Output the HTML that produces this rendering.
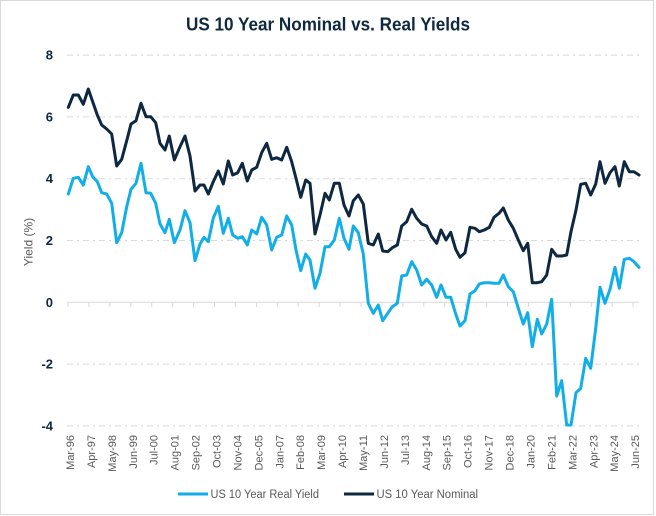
<!DOCTYPE html>
<html><head><meta charset="utf-8"><style>
html,body{margin:0;padding:0;background:#fff;}
svg{display:block;}
text{font-family:"Liberation Sans",sans-serif;}
</style></head><body>
<svg width="656" height="516" viewBox="0 0 656 516" xmlns="http://www.w3.org/2000/svg">
<rect x="0" y="0" width="656" height="516" fill="#fff"/>
<rect x="0.5" y="0.5" width="653" height="514" fill="none" stroke="#d9d9d9" stroke-width="1"/>
<text x="328" y="30.7" text-anchor="middle" font-size="18.5" font-weight="bold" fill="#0e2841" textLength="284" lengthAdjust="spacingAndGlyphs">US 10 Year Nominal vs. Real Yields</text>
<g stroke="#d9d9d9" stroke-width="1" stroke-dasharray="6 4 2 4" fill="none">
<line x1="67" y1="55.1" x2="639" y2="55.1"/>
<line x1="67" y1="116.9" x2="639" y2="116.9"/>
<line x1="67" y1="178.7" x2="639" y2="178.7"/>
<line x1="67" y1="240.5" x2="639" y2="240.5"/>
<line x1="67" y1="364.1" x2="639" y2="364.1"/>
<line x1="67" y1="425.9" x2="639" y2="425.9"/>
</g>
<line x1="67" y1="302.3" x2="639" y2="302.3" stroke="#d9d9d9" stroke-width="1"/>
<g stroke="#d9d9d9" stroke-width="1">
<line x1="68" y1="302.3" x2="68" y2="307"/><line x1="88.9" y1="302.3" x2="88.9" y2="307"/><line x1="109.9" y1="302.3" x2="109.9" y2="307"/><line x1="130.8" y1="302.3" x2="130.8" y2="307"/><line x1="151.7" y1="302.3" x2="151.7" y2="307"/><line x1="172.7" y1="302.3" x2="172.7" y2="307"/><line x1="193.6" y1="302.3" x2="193.6" y2="307"/><line x1="214.5" y1="302.3" x2="214.5" y2="307"/><line x1="235.4" y1="302.3" x2="235.4" y2="307"/><line x1="256.4" y1="302.3" x2="256.4" y2="307"/><line x1="277.3" y1="302.3" x2="277.3" y2="307"/><line x1="298.2" y1="302.3" x2="298.2" y2="307"/><line x1="319.2" y1="302.3" x2="319.2" y2="307"/><line x1="340.1" y1="302.3" x2="340.1" y2="307"/><line x1="361" y1="302.3" x2="361" y2="307"/><line x1="382" y1="302.3" x2="382" y2="307"/><line x1="402.9" y1="302.3" x2="402.9" y2="307"/><line x1="423.8" y1="302.3" x2="423.8" y2="307"/><line x1="444.7" y1="302.3" x2="444.7" y2="307"/><line x1="465.7" y1="302.3" x2="465.7" y2="307"/><line x1="486.6" y1="302.3" x2="486.6" y2="307"/><line x1="507.5" y1="302.3" x2="507.5" y2="307"/><line x1="528.5" y1="302.3" x2="528.5" y2="307"/><line x1="549.4" y1="302.3" x2="549.4" y2="307"/><line x1="570.3" y1="302.3" x2="570.3" y2="307"/><line x1="591.3" y1="302.3" x2="591.3" y2="307"/><line x1="612.2" y1="302.3" x2="612.2" y2="307"/><line x1="633.1" y1="302.3" x2="633.1" y2="307"/>
</g>
<g font-size="13" font-weight="bold" fill="#0e2841" text-anchor="end">
<text x="53" y="59.6">8</text>
<text x="53" y="121.4">6</text>
<text x="53" y="183.2">4</text>
<text x="53" y="245">2</text>
<text x="53" y="306.8">0</text>
<text x="53" y="368.6">-2</text>
<text x="53" y="430.4">-4</text>
</g>
<text transform="translate(32.5,242) rotate(-90)" text-anchor="middle" font-size="12" fill="#595959">Yield (%)</text>
<polyline fill="none" stroke="#12aee8" stroke-width="3" stroke-linejoin="round" stroke-linecap="round" points="68.3,194 73.3,178.3 78.3,177.3 83.3,185 88.3,166.7 92.7,176.7 97.3,181.7 101.7,192.7 106.7,194 111.7,203.3 116.7,242.7 121.7,232.7 126.7,206.7 131,189.3 136,183.3 141,163.3 146,192.7 150.7,193.3 155.7,203.3 160,224 165,232.7 169.3,219.3 174.3,242.7 180,230 185,210.7 190,222.7 195,260.7 200,244 204,237.3 208.3,241.7 213.3,218 218.3,206.3 223.3,233.3 228.3,218.3 232.7,235 237.7,238.3 242.3,236.7 247.3,245 251.7,230 256.7,234 261.7,217.3 266.7,225 271.7,250 276.7,237.3 281.7,235 286.7,216 291.7,225 296,250 300.7,270.7 305.7,254 310,260 315,288.3 320,273.3 325,246.7 329.3,246.7 334.3,240 339.3,218.3 344,238.3 349,249.3 353.3,226 358.3,232.7 363.3,254 368.3,303.3 373.3,313.3 378.3,305 382.7,320.7 387.7,313.3 392.3,306.7 397.3,303.3 401.7,276 406.7,275 411.7,261.7 416.7,270 421.7,285 426.7,279.3 431.7,285 436.7,297.3 441,285 446,297.3 450.7,297.3 455.7,314 460,326 465,320.7 470,294 475,290.7 479.3,284 484.3,282.7 489.3,282.7 494,283.3 499,283.3 503.3,275 508.3,286.7 513.3,291.7 518.3,308.3 523.3,324 527.7,312.7 532.3,346.7 537.3,319.3 541.7,334 546.7,324 551.7,299.3 556.7,396 561.7,380.7 566.7,425 571,425 576,392.7 580.7,388.3 585.7,358.3 590.7,368.3 595.7,328.3 600,287.3 605,303.3 610,289.3 615,267.3 619.3,288.3 624.3,259.3 629.3,258.3 634,261.7 639,267.3"/>
<polyline fill="none" stroke="#0e2841" stroke-width="3" stroke-linejoin="round" stroke-linecap="round" points="68.3,107.3 73.3,95 78.3,95 83.3,104.3 88.3,89 92.7,101.7 97.3,115 101.7,125 106.7,129 111.7,134 116.7,166 121.7,159.3 126.7,140.7 131,124 136,120.7 141,103.3 146,116.7 150.7,116.7 155.7,122.7 160,143.3 165,150 169.3,136 174.3,160 180,146.7 185,136 190,156 195,191 200,185 204,185 208.3,194 213.3,181.7 218.3,171 223.3,184 228.3,161 232.7,175 237.7,172.7 242.3,163.3 247.3,181 251.7,170 256.7,167.3 261.7,152.7 266.7,143.3 271.7,159.3 276.7,157.7 281.7,160 286.7,147.3 291.7,161.7 296,178.3 300.7,197.3 305.7,180 310,183.3 315,234 320,215 325,193.3 329.3,200 334.3,183.3 339.3,183.3 344,205 349,216 353.3,200.7 358.3,195 363.3,204 368.3,243.3 373.3,245 378.3,234 382.7,251 387.7,251.7 392.3,247.7 397.3,245 401.7,226 406.7,221.7 411.7,209.3 416.7,218.3 421.7,224 426.7,226 431.7,236.7 436.7,243.3 441,230 446,240 450.7,232.3 455.7,249.3 460,257.3 465,252.7 470,227.3 475,228.3 479.3,231.7 484.3,230 489.3,227.3 494,217.3 499,213.3 503.3,208 508.3,220 513.3,228.3 518.3,240 523.3,250.7 527.7,243.3 532.3,282.7 537.3,282.7 541.7,281.7 546.7,275 551.7,249.3 556.7,256 561.7,256 566.7,255 571,231.7 576,210 580.7,184.3 585.7,183.3 590.7,195 595.7,184 600,161.7 605,183.3 610,172.7 615,166.7 619.3,186 624.3,161.7 629.3,171.7 634,171.7 639,175"/>
<g font-size="11" fill="#595959" text-anchor="end">
<text transform="translate(74,435) rotate(-90)">Mar-96</text>
<text transform="translate(94.9,435) rotate(-90)">Apr-97</text>
<text transform="translate(115.9,435) rotate(-90)">May-98</text>
<text transform="translate(136.8,435) rotate(-90)">Jun-99</text>
<text transform="translate(157.7,435) rotate(-90)">Jul-00</text>
<text transform="translate(178.7,435) rotate(-90)">Aug-01</text>
<text transform="translate(199.6,435) rotate(-90)">Sep-02</text>
<text transform="translate(220.5,435) rotate(-90)">Oct-03</text>
<text transform="translate(241.4,435) rotate(-90)">Nov-04</text>
<text transform="translate(262.4,435) rotate(-90)">Dec-05</text>
<text transform="translate(283.3,435) rotate(-90)">Jan-07</text>
<text transform="translate(304.2,435) rotate(-90)">Feb-08</text>
<text transform="translate(325.2,435) rotate(-90)">Mar-09</text>
<text transform="translate(346.1,435) rotate(-90)">Apr-10</text>
<text transform="translate(367,435) rotate(-90)">May-11</text>
<text transform="translate(388,435) rotate(-90)">Jun-12</text>
<text transform="translate(408.9,435) rotate(-90)">Jul-13</text>
<text transform="translate(429.8,435) rotate(-90)">Aug-14</text>
<text transform="translate(450.7,435) rotate(-90)">Sep-15</text>
<text transform="translate(471.7,435) rotate(-90)">Oct-16</text>
<text transform="translate(492.6,435) rotate(-90)">Nov-17</text>
<text transform="translate(513.5,435) rotate(-90)">Dec-18</text>
<text transform="translate(534.5,435) rotate(-90)">Jan-20</text>
<text transform="translate(555.4,435) rotate(-90)">Feb-21</text>
<text transform="translate(576.3,435) rotate(-90)">Mar-22</text>
<text transform="translate(597.3,435) rotate(-90)">Apr-23</text>
<text transform="translate(618.2,435) rotate(-90)">May-24</text>
<text transform="translate(639.1,435) rotate(-90)">Jun-25</text>
</g>
<line x1="178" y1="494" x2="208" y2="494" stroke="#12aee8" stroke-width="3"/>
<text x="210.5" y="497.8" font-size="11.5" fill="#595959" textLength="108.5" lengthAdjust="spacingAndGlyphs">US 10 Year Real Yield</text>
<line x1="344" y1="494" x2="374" y2="494" stroke="#0e2841" stroke-width="3"/>
<text x="376.5" y="497.8" font-size="11.5" fill="#595959" textLength="101.5" lengthAdjust="spacingAndGlyphs">US 10 Year Nominal</text>
</svg>
</body></html>
